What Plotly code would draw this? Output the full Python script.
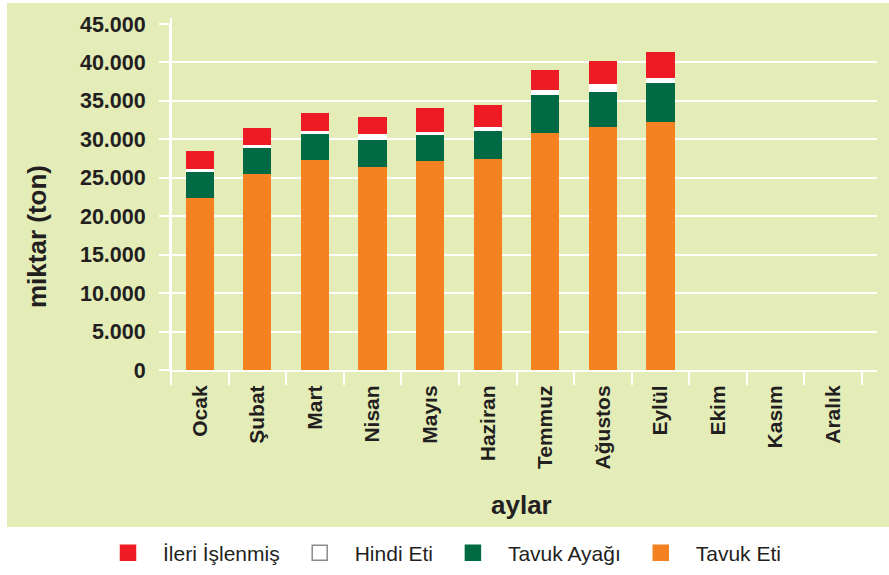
import plotly.graph_objects as go

months = ["Ocak", "Şubat", "Mart", "Nisan", "Mayıs", "Haziran", "Temmuz",
          "Ağustos", "Eylül", "Ekim", "Kasım", "Aralık"]
tavuk_eti = [22400, 25500, 27300, 26400, 27200, 27400, 30800, 31600, 32250, None, None, None]
tavuk_ayagi = [3350, 3370, 3380, 3500, 3380, 3640, 4940, 4550, 5070, None, None, None]
hindi_eti = [400, 390, 390, 790, 390, 520, 650, 1040, 650, None, None, None]
ileri_islenmis = [2330, 2210, 2340, 2210, 3120, 2860, 2600, 2990, 3380, None, None, None]
y_ticks = [0, 5000, 10000, 15000, 20000, 25000, 30000, 35000, 40000, 45000]

C_ORANGE = "#f58220"
C_GREEN = "#006a44"
C_WHITE = "#ffffff"
C_RED = "#ed1c24"
BG = "#e4ecb8"
TXT = "#231f20"
FONT = "Liberation Sans, Arial, sans-serif"

series = [
    ("Tavuk Eti", tavuk_eti, C_ORANGE),
    ("Tavuk Ayağı", tavuk_ayagi, C_GREEN),
    ("Hindi Eti", hindi_eti, C_WHITE),
    ("İleri İşlenmiş", ileri_islenmis, C_RED),
]

fig = go.Figure()
for name, vals, col in series:
    fig.add_trace(go.Bar(x=months, y=vals, name=name, marker=dict(color=col, line=dict(width=0)),
                         showlegend=False, hoverinfo="y+name"))

# legend-only entries (square swatches)
for name, vals, col in reversed(series):
    fig.add_trace(go.Scatter(
        x=[None], y=[None], mode="markers", name=name,
        marker=dict(symbol="square", size=15, color=col,
                    line=dict(color="#8a8a8a" if col == C_WHITE else col, width=1.5)),
    ))

W_FIG, H_FIG = 889.0, 575.0
W_PLOT = 706.0
H_PLOT = 346.0

fig.update_layout(
    width=889, height=575,
    margin=dict(l=171, r=12, t=24, b=205, pad=0, autoexpand=False),
    paper_bgcolor="white",
    plot_bgcolor="rgba(0,0,0,0)",
    barmode="stack",
    bargap=0.51,
    separators=",.",
    showlegend=True,
    legend=dict(orientation="h", xref="container", yref="container",
                x=93 / W_FIG, y=(H_FIG - 553) / H_FIG,
                xanchor="left", yanchor="middle", itemwidth=60,
                font=dict(family=FONT, size=21, color=TXT),
                bgcolor="rgba(0,0,0,0)", traceorder="normal", itemclick=False),
    xaxis=dict(
        type="category", categoryorder="array", categoryarray=months,
        range=[-0.5, 11.76], tickson="boundaries",
        ticks="outside", ticklen=13, tickwidth=2, tickcolor="white",
        showgrid=False, showline=True, linecolor="white", linewidth=2,
        tickangle=-90, tickfont=dict(family=FONT, size=21, color=TXT, weight="bold"),
        ticklabelstandoff=5,
        zeroline=False, fixedrange=True, automargin=False,
    ),
    yaxis=dict(
        range=[0, 45000], tickvals=y_ticks, tickformat=",d",
        ticks="outside", ticklen=10, tickwidth=2, tickcolor="white",
        showgrid=True, gridcolor="white", gridwidth=2,
        showline=True, linecolor="white", linewidth=2,
        zeroline=False, ticklabelstandoff=9, automargin=False,
        tickfont=dict(family=FONT, size=21.5, color=TXT, weight="bold"), fixedrange=True,
    ),
    shapes=[
        dict(type="rect", xref="paper", yref="paper",
             x0=(7 - 171) / W_PLOT, x1=(889 - 171) / W_PLOT,
             y0=(370 - 527) / H_PLOT, y1=(370 - 3) / H_PLOT,
             fillcolor=BG, line=dict(width=0), layer="below"),
        dict(type="line", xref="paper", yref="paper",
             x0=0, x1=0, y0=(370 - 383) / H_PLOT, y1=(370 - 18) / H_PLOT,
             line=dict(color="white", width=2), layer="below"),
        dict(type="line", xref="paper", yref="paper",
             x0=(161 - 171) / W_PLOT, x1=0, y0=0, y1=0,
             line=dict(color="white", width=2), layer="below"),
    ],
    annotations=[
        dict(text="miktar (ton)", xref="paper", yref="paper",
             x=(37 - 171) / W_PLOT, y=(370 - 237) / H_PLOT, textangle=-90,
             showarrow=False, xanchor="center", yanchor="middle",
             font=dict(family=FONT, size=26, color=TXT, weight="bold")),
        dict(text="aylar", xref="paper", yref="paper",
             x=(521 - 171) / W_PLOT, y=(370 - 505) / H_PLOT,
             showarrow=False, xanchor="center", yanchor="middle",
             font=dict(family=FONT, size=26, color=TXT, weight="bold")),
    ],
)

post = ("var de=document.documentElement, b=document.body;"
        "de.style.margin='0'; de.style.overflow='hidden';"
        "b.style.margin='0'; b.style.overflow='hidden';")
fig.write_html("out.html", config={"displayModeBar": False}, post_script=post)
